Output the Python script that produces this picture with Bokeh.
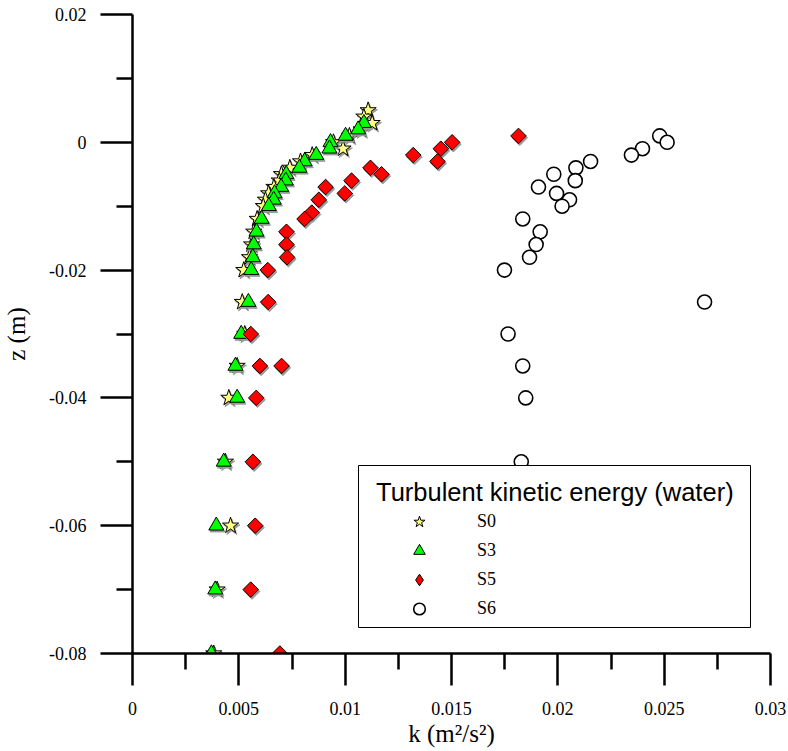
import math
from bokeh.plotting import figure
from bokeh.models import (ColumnDataSource, Range1d, FixedTicker, CustomJSTickFormatter,
                          Legend, LegendItem, BoxAnnotation)
from bokeh.transform import dodge
from bokeh.embed import file_html
from bokeh.resources import INLINE

# ---------------- data ----------------
s0_z = [0.005, 0.004, 0.003, 0.002, 0.001, 0.0, -0.001, -0.002, -0.003, -0.004, -0.005,
        -0.006, -0.007, -0.008, -0.009, -0.010, -0.012, -0.014, -0.016, -0.018, -0.020,
        -0.025, -0.030, -0.035, -0.040, -0.050, -0.060, -0.070, -0.080]
s0_k = [0.01108, 0.01088, 0.01127, 0.01075, 0.01020, 0.00945, 0.00990, 0.00845, 0.00790,
        0.00740, 0.00700, 0.00690, 0.00665, 0.00640, 0.00625, 0.00615, 0.00586, 0.00570,
        0.00560, 0.00550, 0.00523, 0.00516, 0.00528, 0.00492, 0.00453, 0.00437, 0.00461,
        0.00398, 0.00382]

s3_z = [0.003, 0.002, 0.001, 0.0, -0.001, -0.002, -0.003, -0.004, -0.005, -0.006, -0.007,
        -0.008, -0.009, -0.010, -0.012, -0.014, -0.016, -0.018, -0.020, -0.025, -0.030,
        -0.035, -0.040, -0.050, -0.060, -0.070, -0.080]
s3_k = [0.01088, 0.01061, 0.01002, 0.00931, 0.00926, 0.00864, 0.00809, 0.00785, 0.00723,
        0.00721, 0.00699, 0.00668, 0.00664, 0.00641, 0.00607, 0.00583, 0.00570, 0.00566,
        0.00558, 0.00545, 0.00511, 0.00484, 0.00492, 0.00429, 0.00394, 0.00389, 0.00371]

s5_z = [0.001, 0.0, -0.001, -0.002, -0.003, -0.004, -0.005, -0.006, -0.007, -0.008, -0.009,
        -0.011, -0.012, -0.014, -0.016, -0.018, -0.020, -0.025, -0.030, -0.035, -0.035,
        -0.040, -0.050, -0.060, -0.070, -0.080]
s5_k = [0.01815, 0.01503, 0.01450, 0.01320, 0.01434, 0.01119, 0.01171, 0.01030, 0.00908,
        0.00998, 0.00876, 0.00843, 0.00809, 0.00724, 0.00724, 0.00727, 0.00636, 0.00638,
        0.00556, 0.00599, 0.00701, 0.00582, 0.00566, 0.00577, 0.00556, 0.00693]

s6_z = [0.001, 0.0, -0.001, -0.002, -0.003, -0.004, -0.005, -0.006, -0.007, -0.008, -0.009,
        -0.010, -0.012, -0.014, -0.016, -0.018, -0.020, -0.025, -0.030, -0.035, -0.040, -0.050]
s6_k = [0.02479, 0.02514, 0.02398, 0.02346, 0.02154, 0.02085, 0.01981, 0.02082, 0.01909,
        0.01994, 0.02055, 0.02020, 0.01835, 0.01917, 0.01898, 0.01867, 0.01749, 0.02690,
        0.01766, 0.01835, 0.01849, 0.01828]

series_names = ["S0", "S3", "S5", "S6"]
legend_title = "Turbulent kinetic energy (water)"
x_title = "k (m²/s²)"
y_title = "z (m)"
x_ticks = [0, 0.005, 0.01, 0.015, 0.02, 0.025, 0.03]
x_minor = [0.0025, 0.0075, 0.0125, 0.0175, 0.0225, 0.0275]
y_ticks = [0.02, 0, -0.02, -0.04, -0.06, -0.08]
y_minor = [0.01, -0.01, -0.03, -0.05, -0.07]

# ---------------- figure ----------------
p = figure(width=788, height=751, output_backend="svg", toolbar_location=None,
           x_range=Range1d(0, 0.03), y_range=Range1d(-0.08, 0.02),
           min_border_left=132, min_border_right=18, min_border_top=14, min_border_bottom=98)
p.outline_line_color = None
p.xgrid.visible = False
p.ygrid.visible = False
p.background_fill_color = "white"
p.border_fill_color = "white"

fmt = CustomJSTickFormatter(code="return String(Math.round(tick*1e6)/1e6);")
for ax, maj, mnr in ((p.xaxis[0], x_ticks, x_minor), (p.yaxis[0], y_ticks, y_minor)):
    ax.ticker = FixedTicker(ticks=maj, minor_ticks=mnr)
    ax.formatter = fmt
    ax.axis_line_width = 2.5
    ax.axis_line_color = "black"
    ax.major_tick_line_width = 2.5
    ax.minor_tick_line_width = 2.5
    ax.major_tick_line_color = "black"
    ax.minor_tick_line_color = "black"
    ax.major_tick_in = 0
    ax.minor_tick_in = 0
    ax.major_tick_out = 32
    ax.minor_tick_out = 16
    ax.major_label_text_font = "Liberation Serif"
    ax.major_label_text_font_size = "18px"
    ax.major_label_text_color = "black"
    ax.axis_label_text_font = "Liberation Serif"
    ax.axis_label_text_font_size = "25px"
    ax.axis_label_text_font_style = "normal"
    ax.axis_label_text_color = "black"
p.xaxis.major_label_standoff = 16
p.yaxis.major_label_standoff = 14
p.xaxis.axis_label = x_title
p.yaxis.axis_label = y_title
p.xaxis.axis_label_standoff = 2
p.yaxis.axis_label_standoff = 16

src0 = ColumnDataSource(dict(k=s0_k, z=s0_z))
src3 = ColumnDataSource(dict(k=s3_k, z=s3_z))
src5 = ColumnDataSource(dict(k=s5_k, z=s5_z))
src6 = ColumnDataSource(dict(k=s6_k, z=s6_z))

shadow = "#9a9a9a"
sdx, sdy = 0.00006, -0.0003
p.scatter(x=dodge("k", sdx), y=dodge("z", sdy), source=src0, marker="star", size=17,
          fill_color=shadow, line_color=shadow)
r0 = p.scatter(x="k", y="z", source=src0, marker="star", size=17,
               fill_color="#FFFF80", line_color="black", line_width=1)
p.scatter(x=dodge("k", sdx), y=dodge("z", sdy), source=src3, marker="triangle", size=15,
          fill_color=shadow, line_color=shadow)
r3 = p.scatter(x="k", y="z", source=src3, marker="triangle", size=15,
               fill_color="#00FF00", line_color="black", line_width=1)
p.scatter(x=dodge("k", sdx), y=dodge("z", sdy), source=src5, marker="square", angle=math.pi / 4,
          size=11, fill_color=shadow, line_color=shadow)
r5 = p.scatter(x="k", y="z", source=src5, marker="square", angle=math.pi / 4, size=11,
               fill_color="#FF0000", line_color="black", line_width=1)
# legend-only glyph for S5 (legend ignores marker angle): hidden renderer, same data
r5_leg = p.scatter(x="k", y="z", source=src5, marker="diamond", size=15,
                   fill_color="#FF0000", line_color="black", line_width=1, visible=False)
r6 = p.scatter(x="k", y="z", source=src6, marker="circle", size=14,
               fill_color="white", line_color="black", line_width=1.6)

# legend frame
box = BoxAnnotation(left=226, right=618, bottom=26, top=188,
                    left_units="screen", right_units="screen",
                    bottom_units="screen", top_units="screen",
                    fill_color="white", fill_alpha=1.0,
                    line_color="black", line_width=1, line_alpha=1.0)
p.add_layout(box)

legend = Legend(items=[LegendItem(label=n, renderers=[r]) for n, r in
                       zip(series_names, [r0, r3, r5_leg, r6])],
                location=(244, 30), title=legend_title,
                title_text_font="Liberation Sans", title_text_font_size="25.5px",
                title_text_font_style="normal", title_text_color="black",
                title_standoff=0,
                label_text_font="Liberation Serif", label_text_font_size="18px",
                label_text_color="black",
                glyph_width=86, glyph_height=29, spacing=0, label_standoff=15,
                padding=0, margin=0,
                inactive_fill_alpha=0.0,
                border_line_color=None, background_fill_alpha=0.0)
p.add_layout(legend, "center")

open("out.html", "w").write(file_html(p, INLINE))
